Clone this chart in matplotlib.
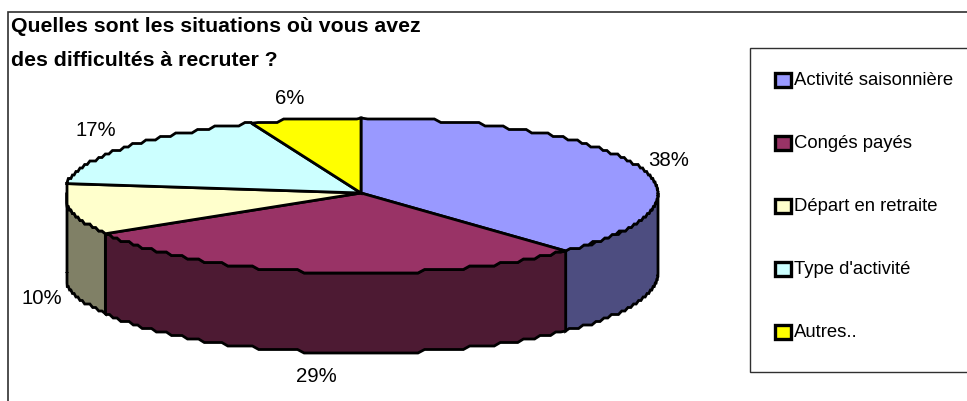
import numpy as np
import matplotlib
matplotlib.use('Agg')
import matplotlib.pyplot as plt
from matplotlib.patches import Patch, Rectangle
from matplotlib.legend_handler import HandlerPatch

title = ['Quelles sont les situations où vous avez', 'des difficultés à recruter ?']
categories = ['Activité saisonnière', 'Congés payés', 'Départ en retraite', "Type d'activité", 'Autres..']
shares = [37.9, 28.6, 10.5, 17.0, 6.0]
top_colors = ['#9999FF', '#993366', '#FFFFCC', '#CCFFFF', '#FFFF00']
side_colors = ['#4D4D80', '#4D1A33', '#808066', '#668080', '#808000']

cx, cy = 361, 193
rx = 297
ry_up, ry_down = 75, 80
depth = 80
lw = 2.0

plt.rcParams['font.family'] = ['Liberation Sans', 'DejaVu Sans']


def rim(a0, a1, dy=0):
    # angles in degrees, clockwise from 12 o'clock, rim snapped to a coarse grid
    a = np.arange(a0, a1, 1.3)
    a = np.append(a, a1)
    x = cx + rx * np.sin(np.radians(a))
    x = np.clip(x, 67, 658)
    c = np.cos(np.radians(a))
    y = cy - c * np.where(c > 0, ry_up, ry_down)
    y[1:-1] = np.round(y[1:-1] / 3.5) * 3.5
    return x, y + dy


fig = plt.figure(figsize=(9.67, 4.01), dpi=100)
ax = fig.add_axes([0, 0, 1, 1])
ax.set_xlim(0, 967)
ax.set_ylim(401, 0)
ax.axis('off')

# cadre du graphique
ax.add_patch(Rectangle((7.5, 11.5), 1000, 500, fc='white', ec='#303030', lw=1.2, zorder=0))

edges = np.concatenate([[0], np.cumsum(shares)]) * 360 / sum(shares)

# faces avant
for i in range(len(shares)):
    a0, a1 = max(edges[i], 90), min(edges[i + 1], 270)
    if a1 <= a0:
        continue
    x, y = rim(a0, a1)
    xb, yb = rim(a0, a1, depth)
    ax.fill(np.r_[x, xb[::-1]], np.r_[y, yb[::-1]], fc=side_colors[i], ec='black', lw=lw, zorder=2)

# faces du dessus
for i in range(len(shares)):
    x, y = rim(edges[i], edges[i + 1])
    ax.fill(np.r_[cx, x], np.r_[cy, y], fc=top_colors[i], ec='black', lw=lw, zorder=4)

# etiquettes en pourcentage
label_pos = [(669, 161), (316, 376), (42, 299), (96, 131), (290, 98)]
for s, (lx, ly) in zip(shares, label_pos):
    ax.text(lx, ly, f'{s:.0f}%', fontsize=14.7, ha='center', va='center', color='black', zorder=5)

ax.text(11, 27, title[0], fontsize=15.3, fontweight='bold', va='center', ha='left')
ax.text(11, 60, title[1], fontsize=15.3, fontweight='bold', va='center', ha='left')

# legende
ax.add_patch(Rectangle((749.5, 47.5), 300, 324, fc='white', ec='#303030', lw=1.0, zorder=1))
handles = [Patch(fc=c, ec='black', lw=lw + 0.4) for c in top_colors]
ax.legend(handles, categories, frameon=False, fontsize=13.3, loc='upper left',
          bbox_to_anchor=(775 / 967, 1 - 72 / 401), borderaxespad=0, borderpad=0,
          handlelength=0.85, handleheight=0.54, handletextpad=0.2, labelspacing=2.49,
          handler_map={Patch: HandlerPatch(ypad=-0.16)})

fig.savefig('out.png', dpi=100)
